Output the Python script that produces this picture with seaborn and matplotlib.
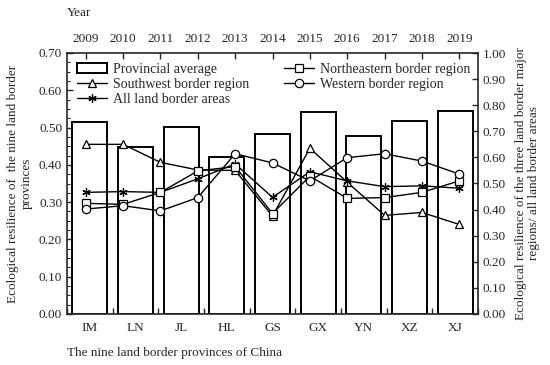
import numpy as np
import pandas as pd
import matplotlib
matplotlib.use("Agg")
import matplotlib.pyplot as plt
import seaborn as sns
from matplotlib.ticker import MultipleLocator, FormatStrFormatter, FixedLocator, NullFormatter

# ---- data ----
provinces = ["IM", "LN", "JL", "HL", "GS", "GX", "YN", "XZ", "XJ"]
provincial_avg = [0.516, 0.447, 0.501, 0.422, 0.483, 0.543, 0.478, 0.518, 0.545]

years = ["2009", "2010", "2011", "2012", "2013", "2014", "2015", "2016", "2017", "2018", "2019"]
northeastern = [0.424, 0.420, 0.466, 0.548, 0.565, 0.385, 0.528, 0.443, 0.446, 0.466, 0.510]
southwest = [0.650, 0.650, 0.581, 0.552, 0.550, 0.375, 0.635, 0.505, 0.378, 0.389, 0.343]
western = [0.402, 0.415, 0.395, 0.446, 0.614, 0.579, 0.510, 0.599, 0.614, 0.586, 0.536]
all_land = [0.466, 0.469, 0.466, 0.518, 0.575, 0.447, 0.545, 0.510, 0.488, 0.491, 0.482]

sns.set_style("ticks")
plt.rcParams["font.family"] = ["Liberation Serif", "DejaVu Serif"]
plt.rcParams["font.size"] = 9.5

fig = plt.figure(figsize=(5.5, 3.65), dpi=100)
pos = [67 / 550, 1 - 314 / 365, (478 - 67) / 550, (314 - 53) / 365]
ax = fig.add_axes(pos)

bar_df = pd.DataFrame({"province": provinces, "value": provincial_avg})
sns.barplot(data=bar_df, x="province", y="value", color="white", saturation=1,
            edgecolor="black", linewidth=1.4, width=0.76, ax=ax,
            label="Provincial average")
if ax.get_legend() is not None:
    ax.get_legend().remove()
ax.set_xlim(-0.5, len(provinces) - 0.5)
ax.set_ylim(0, 0.70)
ax.yaxis.set_major_locator(MultipleLocator(0.1))
ax.yaxis.set_minor_locator(MultipleLocator(0.025))
ax.yaxis.set_major_formatter(FormatStrFormatter("%.2f"))
ax.xaxis.set_major_locator(FixedLocator(np.arange(-0.5, len(provinces), 1.0)))
ax.xaxis.set_major_formatter(NullFormatter())
ax.xaxis.set_minor_locator(FixedLocator(np.arange(len(provinces))))
ax.set_xticklabels(provinces, minor=True)
ax.tick_params(axis="x", which="minor", length=0, pad=6)
ax.tick_params(axis="x", which="major", direction="in", length=4, width=1)
ax.tick_params(axis="y", which="major", direction="in", length=4, width=1)
ax.tick_params(axis="y", which="minor", direction="in", length=2, width=0.8)
ax.set_xlabel("")
ax.set_ylabel("Ecological resilience of  the nine land border\nprovinces", fontsize=9.5, labelpad=4)
for s in ax.spines.values():
    s.set_linewidth(1.2)

ax2 = fig.add_axes(pos, frameon=False)
xi = np.arange(len(years))
series = [
    (southwest, "^", "Southwest border region"),
    (all_land, (6, 2, 0), "All land border areas"),
    (northeastern, "s", "Northeastern border region"),
    (western, "o", "Western border region"),
]
for vals, mk, lab in series:
    sns.lineplot(x=xi, y=vals, ax=ax2, color="black", linewidth=1.0, marker=mk,
                 markersize=6, markerfacecolor="white", markeredgecolor="black",
                 markeredgewidth=0.9, label=lab, legend=False)
ax2.set_xlim(-0.5, len(years) - 0.5)
ax2.set_ylim(0, 1.0)
ax2.xaxis.tick_top()
ax2.yaxis.tick_right()
ax2.yaxis.set_label_position("right")
ax2.set_xticks(xi)
ax2.set_xticklabels(years)
ax2.yaxis.set_major_locator(MultipleLocator(0.1))
ax2.yaxis.set_major_formatter(FormatStrFormatter("%.2f"))
ax2.tick_params(axis="x", direction="in", length=4, width=1, pad=6)
ax2.tick_params(axis="y", direction="in", length=4, width=1)
ax2.set_xlabel("")
ax2.set_ylabel("Ecological resilience of the three land border major\nregions/ all land border areas",
               fontsize=9.5, labelpad=6)

h1, l1 = ax.get_legend_handles_labels()
h2, l2 = ax2.get_legend_handles_labels()
handles = [h1[0], h2[0], h2[1], h2[2], h2[3]]
labels = [l1[0], l2[0], l2[1], l2[2], l2[3]]
ax2.legend(handles, labels, ncol=2, loc="upper left", bbox_to_anchor=(0.0, 1.0),
           frameon=False, fontsize=10, handlelength=2.2, labelspacing=0.15,
           columnspacing=2.5, handletextpad=0.4, borderaxespad=0.3)

fig.text(67 / 550, 1 - 13 / 365, "Year", ha="left", va="center", fontsize=9.5)
fig.text(67 / 550, 1 - 353 / 365, "The nine land border provinces of China", ha="left",
         va="center", fontsize=9.5)

fig.savefig("out.png", dpi=100)
